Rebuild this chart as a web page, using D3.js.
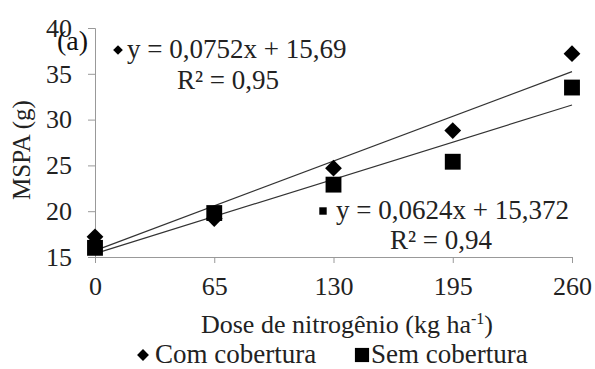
<!DOCTYPE html>
<html><head><meta charset="utf-8">
<script src="https://cdn.jsdelivr.net/npm/d3@7/dist/d3.min.js"></script>
<style>body{margin:0;background:#fff}svg{display:block}text{font-family:'Liberation Serif','Times New Roman',serif}</style>
</head><body>
<script>
const doses = [0, 65, 130, 195, 260];
const comCobertura = [17.2, 19.2, 24.7, 28.8, 37.2];
const semCobertura = [16.0, 19.8, 22.9, 25.4, 33.5];
const yTicks = [15, 20, 25, 30, 35, 40];
const fitCom = {a: 0.0752, b: 15.69};
const fitSem = {a: 0.0624, b: 15.372};
const eqCom = ["y = 0,0752x + 15,69", "R² = 0,95"];
const eqSem = ["y = 0,0624x + 15,372", "R² = 0,94"];

const W = 595, H = 369;
const FF = "'Liberation Serif','Times New Roman',serif";
const svg = d3.select("body").append("svg").attr("width", W).attr("height", H)
  .style("font-family", FF);
const x = d3.scaleLinear().domain([0, 260]).range([95, 572]);
const y = d3.scaleLinear().domain([15, 40]).range([257, 28]);
const axisCol = "#999";
const txtCol = "#222";

// y axis
const ya = svg.append("g").attr("transform", `translate(${x(0)},0)`)
  .call(d3.axisLeft(y).tickValues(yTicks).tickSize(7).tickPadding(16));
ya.attr("font-family", FF);
ya.select(".domain").attr("stroke", axisCol);
ya.selectAll(".tick line").attr("stroke", axisCol);
ya.selectAll("text").attr("font-size", 26).attr("fill", txtCol);

// x axis
const xa = svg.append("g").attr("transform", `translate(0,${y(15)})`)
  .call(d3.axisBottom(x).tickValues(doses).tickSize(6).tickSizeOuter(0).tickPadding(14));
xa.attr("font-family", FF);
xa.select(".domain").attr("stroke", axisCol);
xa.selectAll(".tick line").attr("stroke", axisCol);
xa.selectAll("text").attr("font-size", 26).attr("fill", txtCol);

// trend lines
[fitCom, fitSem].forEach(f => {
  svg.append("line").attr("x1", x(0)).attr("x2", x(260))
    .attr("y1", y(f.b)).attr("y2", y(f.a * 260 + f.b))
    .attr("stroke", "#333").attr("stroke-width", 1.2);
});

const diamond = d3.symbol().type(d3.symbolDiamond2);
const square = d3.symbol().type(d3.symbolSquare2);

svg.append("g").selectAll("path").data(doses).join("path")
  .attr("d", diamond.size(180)())
  .attr("transform", (d, i) => `translate(${x(d)},${y(comCobertura[i])})`)
  .attr("fill", "#000");
svg.append("g").selectAll("path").data(doses).join("path")
  .attr("d", square.size(320)())
  .attr("transform", (d, i) => `translate(${x(d)},${y(semCobertura[i])})`)
  .attr("fill", "#000");

// (a) label
svg.append("text").attr("x", 57).attr("y", 50).attr("font-size", 28).attr("fill", "#111").text("(a)");

// equations
const eq = svg.append("g").attr("font-size", 27).attr("fill", txtCol);
eq.append("path").attr("d", diamond.size(60)()).attr("transform", "translate(118,50)").attr("fill", "#000");
eq.append("text").attr("x", 127).attr("y", 58).text(eqCom[0]);
eq.append("text").attr("x", 228).attr("y", 89).attr("text-anchor", "middle").text(eqCom[1]);
eq.append("path").attr("d", square.size(70)()).attr("transform", "translate(323,211)").attr("fill", "#000");
eq.append("text").attr("x", 336).attr("y", 219).text(eqSem[0]);
eq.append("text").attr("x", 441).attr("y", 249).attr("text-anchor", "middle").text(eqSem[1]);

// axis titles
svg.append("text").attr("x", 347).attr("y", 333).attr("text-anchor", "middle")
  .attr("font-size", 26).attr("fill", txtCol)
  .html('Dose de nitrogênio (kg ha<tspan dy="-9" font-size="16">-1</tspan><tspan dy="9">)</tspan>');
svg.append("text").attr("transform", "translate(30,150) rotate(-90)").attr("text-anchor", "middle")
  .attr("font-size", 25).attr("fill", txtCol).text("MSPA (g)");

// legend
const lg = svg.append("g").attr("font-size", 27).attr("fill", txtCol);
lg.append("path").attr("d", diamond.size(90)()).attr("transform", "translate(143,355)").attr("fill", "#000");
lg.append("text").attr("x", 155).attr("y", 363).text("Com cobertura");
lg.append("path").attr("d", square.size(256)()).attr("transform", "translate(362,355)").attr("fill", "#000");
lg.append("text").attr("x", 371).attr("y", 363).text("Sem cobertura");
</script>
</body></html>
